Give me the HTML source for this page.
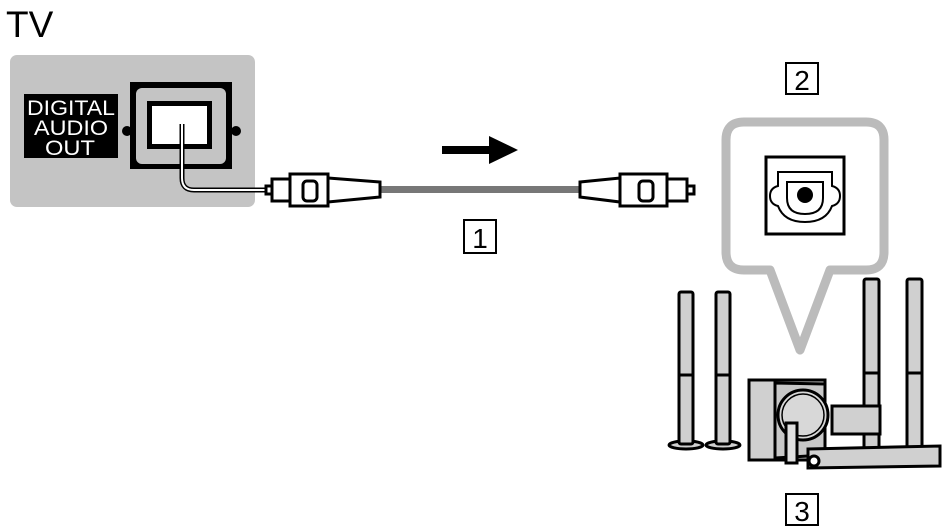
<!DOCTYPE html>
<html><head><meta charset="utf-8"><style>
html,body{margin:0;padding:0;background:#fff;width:950px;height:531px;overflow:hidden}
svg{display:block}
text{font-family:"Liberation Sans",sans-serif}
</style></head><body>
<svg width="950" height="531" viewBox="0 0 950 531" xmlns="http://www.w3.org/2000/svg">
<text x="6" y="37" font-size="37" fill="#000">TV</text>
<rect x="10" y="55" width="245" height="152" rx="7" fill="#c4c4c4"/>
<rect x="24" y="94" width="94" height="64" fill="#000"/>
<text x="27" y="115" font-size="21" fill="#fff" textLength="88" lengthAdjust="spacingAndGlyphs">DIGITAL</text>
<text x="34" y="135" font-size="21" fill="#fff" textLength="74" lengthAdjust="spacingAndGlyphs">AUDIO</text>
<text x="45" y="155" font-size="21" fill="#fff" textLength="50" lengthAdjust="spacingAndGlyphs">OUT</text>
<circle cx="127" cy="131" r="5" fill="#000"/>
<circle cx="236" cy="131" r="5" fill="#000"/>
<rect x="130" y="82" width="102" height="87" fill="#000"/>
<rect x="136" y="88" width="90" height="76" rx="6" fill="#c4c4c4"/>
<rect x="147" y="101" width="65" height="48" fill="#000"/>
<rect x="152" y="106" width="55" height="38" fill="#fff"/>
<path d="M182 124 V178 Q182 190 194 190 H266" fill="none" stroke="#000" stroke-width="5"/>
<path d="M182 124 V178 Q182 190 194 190 H266" fill="none" stroke="#fff" stroke-width="2"/>
<rect x="378" y="186" width="205" height="7" fill="#777"/>
<g stroke="#000" stroke-width="3" fill="#fff">
<rect x="266" y="186" width="6" height="8"/>
<rect x="272" y="179" width="18" height="22"/>
<rect x="290" y="174" width="38" height="32"/>
<path d="M328 178 L380 182 V197 L328 202 Z"/>
<rect x="303" y="181" width="14" height="20" rx="4"/>
</g>
<g stroke="#000" stroke-width="3" fill="#fff">
<path d="M580 182 L620 178 V202 L580 197 Z"/>
<rect x="620" y="174" width="47" height="32"/>
<rect x="667" y="179" width="20" height="22"/>
<rect x="687" y="186" width="7" height="8"/>
<rect x="639" y="181" width="14" height="20" rx="4"/>
</g>
<rect x="442" y="146" width="50" height="8" fill="#000"/>
<path d="M489 136 L518 150 L489 164 Z" fill="#000"/>
<rect x="464" y="220" width="32" height="33" fill="none" stroke="#000" stroke-width="2"/>
<text x="480" y="248" font-size="28" text-anchor="middle">1</text>
<rect x="786" y="63" width="32" height="31" fill="none" stroke="#000" stroke-width="2"/>
<text x="802" y="90" font-size="28" text-anchor="middle">2</text>
<rect x="786" y="494" width="32" height="31" fill="none" stroke="#000" stroke-width="2"/>
<text x="802" y="521" font-size="28" text-anchor="middle">3</text>
<path d="M770 270 H744 Q726 270 726 252 V140 Q726 122 744 122 H866 Q884 122 884 140 V252 Q884 270 866 270 H830 L800 350 Z" fill="#fff" stroke="#bbb" stroke-width="9" stroke-linejoin="round"/>
<rect x="766" y="157" width="78" height="77" fill="#fff" stroke="#000" stroke-width="3"/>
<path d="M778 172 H832 V186 Q840 188 840 196 Q840 204 832 206 Q826 222 805 222 Q784 222 778 206 Q770 204 770 196 Q770 188 778 186 Z" fill="#fff" stroke="#000" stroke-width="2"/>
<path d="M787 182 H823 V198 Q823 214 805 214 Q787 214 787 198 Z" fill="#fff" stroke="#000" stroke-width="2"/>
<circle cx="805" cy="195" r="8" fill="#000"/>
<g stroke="#000" stroke-width="3" fill="#d0d0d0">
<ellipse cx="686" cy="445" rx="17" ry="4"/>
<ellipse cx="723" cy="445" rx="17" ry="4"/>
<rect x="679" y="292" width="14" height="152" rx="2"/>
<rect x="716" y="292" width="14" height="152" rx="2"/>
<line x1="679" y1="375" x2="693" y2="375"/>
<line x1="716" y1="375" x2="730" y2="375"/>
<rect x="864" y="279" width="15" height="170" rx="2"/>
<rect x="907" y="279" width="15" height="170" rx="2"/>
<line x1="864" y1="373" x2="879" y2="373"/>
<line x1="907" y1="373" x2="922" y2="373"/>
<path d="M749 380 L825 380 L825 455 L808 460 L749 460 Z"/>
<path d="M775 383 L825 384 L825 455 L775 458 Z" fill="#c8c8c8"/>
<circle cx="803" cy="415" r="25" fill="#d8d8d8"/>
<circle cx="803" cy="415" r="21" fill="none" stroke-width="1.5"/>
<rect x="832" y="406" width="48" height="28"/>
<path d="M808 449 L940 446 L940 466 L808 468 Z"/>
<rect x="786" y="423" width="11" height="40" fill="#e0e0e0"/>
<circle cx="814" cy="461" r="5" fill="#fff"/>
</g>
</svg>
</body></html>
